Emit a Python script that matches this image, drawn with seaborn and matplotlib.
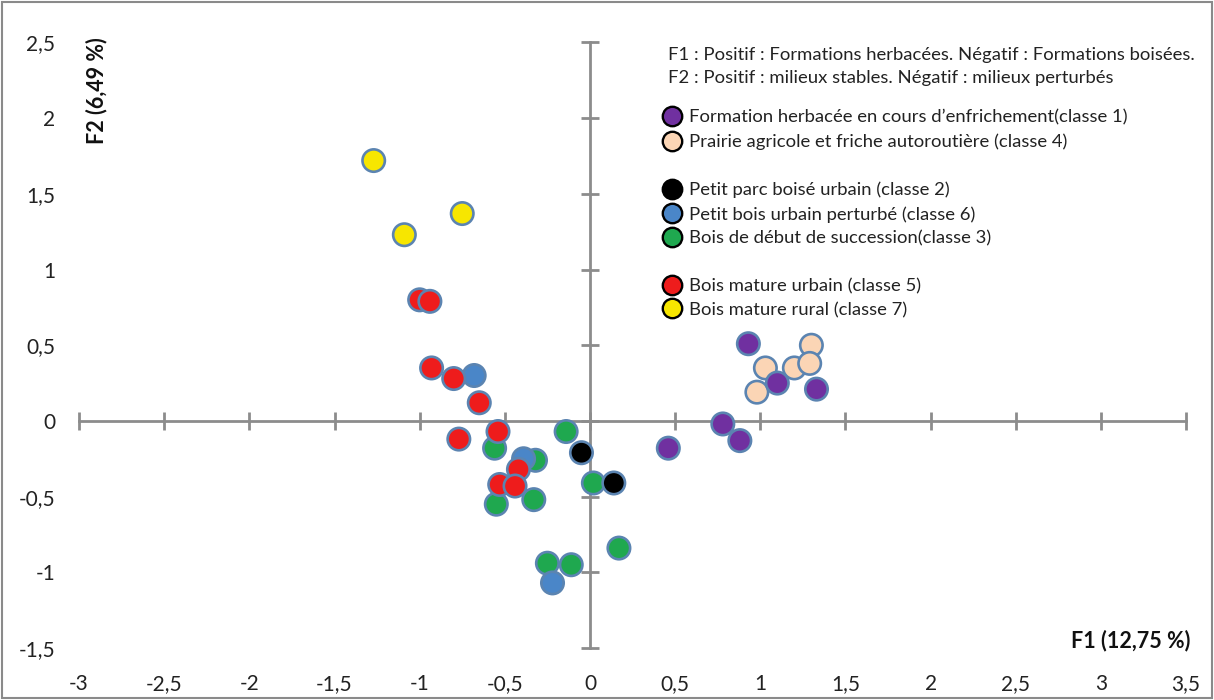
import pandas as pd
import seaborn as sns
import matplotlib.pyplot as plt
from matplotlib.lines import Line2D
from matplotlib.patches import Rectangle
from matplotlib.ticker import FuncFormatter, MultipleLocator, FixedLocator

classe1_x = [0.93, 1.10, 1.33, 0.78, 0.88, 0.46]
classe1_y = [0.51, 0.25, 0.21, -0.02, -0.13, -0.18]
classe4_x = [1.30, 1.03, 1.20, 1.29, 0.98]
classe4_y = [0.50, 0.35, 0.35, 0.38, 0.19]
classe2_x = [-0.05, 0.14]
classe2_y = [-0.21, -0.41]
classe6_x = [-0.68, -0.39, -0.22]
classe6_y = [0.30, -0.25, -1.07]
classe3_x = [-0.56, -0.14, -0.32, 0.02, -0.55, -0.33, 0.17, -0.25, -0.11]
classe3_y = [-0.18, -0.07, -0.26, -0.41, -0.55, -0.52, -0.84, -0.94, -0.95]
classe5_x = [-1.00, -0.94, -0.93, -0.80, -0.65, -0.77, -0.54, -0.42, -0.53, -0.44]
classe5_y = [0.80, 0.79, 0.35, 0.28, 0.12, -0.12, -0.07, -0.32, -0.42, -0.43]
classe7_x = [-1.27, -0.75, -1.09]
classe7_y = [1.72, 1.37, 1.23]

# Graduations des axes
ticks_f1 = [-3, -2.5, -2, -1.5, -1, -0.5, 0, 0.5, 1, 1.5, 2, 2.5, 3, 3.5]
ticks_f2 = [-1.5, -1, -0.5, 0, 0.5, 1, 1.5, 2, 2.5]

labels = {
    'classe 1': 'Formation herbacée en cours d\u2019enfrichement(classe 1)',
    'classe 4': 'Prairie agricole et friche autoroutière (classe 4)',
    'classe 2': 'Petit parc boisé urbain (classe 2)',
    'classe 6': 'Petit bois urbain perturbé (classe 6)',
    'classe 3': 'Bois de début de succession(classe 3)',
    'classe 5': 'Bois mature urbain (classe 5)',
    'classe 7': 'Bois mature rural (classe 7)',
}
couleurs = {
    'classe 1': '#7030a0',
    'classe 4': '#fbd5b5',
    'classe 2': '#000000',
    'classe 6': '#4a86c8',
    'classe 3': '#1fa84f',
    'classe 5': '#ee1c1c',
    'classe 7': '#f7e600',
}
ordre_legende = ['classe 1', 'classe 4', None, 'classe 2', 'classe 6', 'classe 3', None, 'classe 5', 'classe 7']

# Construction du DataFrame (ordre = ordre de superposition)
series = [
    ('classe 4', classe4_x, classe4_y),
    ('classe 1', classe1_x, classe1_y),
    ('classe 3', classe3_x, classe3_y),
    ('classe 6', classe6_x, classe6_y),
    ('classe 5', classe5_x, classe5_y),
    ('classe 2', classe2_x, classe2_y),
    ('classe 7', classe7_x, classe7_y),
]
df = pd.concat([pd.DataFrame({'F1': x, 'F2': y, 'classe': c}) for c, x, y in series], ignore_index=True)

sns.set_style('white')
plt.rcParams['font.family'] = ['Lato', 'DejaVu Sans']
plt.rcParams['axes.unicode_minus'] = False

fig = plt.figure(figsize=(12.14, 7), dpi=100)
ax = fig.add_axes([0.0651, 0.0743, 0.9119, 0.865])

sns.scatterplot(data=df, x='F1', y='F2', hue='classe', palette=couleurs, s=260,
                edgecolor='#5b84b1', linewidth=1.9, legend=False, ax=ax, zorder=3)

ax.set_xlim(-3, 3.5)
ax.set_ylim(-1.5, 2.5)
ax.set_xlabel('')
ax.set_ylabel('')

# Axes qui se croisent à l'origine
axe_gris = '#8c8c8c'
for s in ['top', 'right']:
    ax.spines[s].set_visible(False)
for s in ['left', 'bottom']:
    ax.spines[s].set_position(('data', 0))
    ax.spines[s].set_color(axe_gris)
    ax.spines[s].set_linewidth(2)
ax.xaxis.set_major_locator(MultipleLocator(0.5))
ax.yaxis.set_major_locator(MultipleLocator(0.5))
ax.tick_params(axis='both', direction='inout', length=13, width=2, color=axe_gris,
               labelbottom=False, labelleft=False, bottom=True, left=True)

# Graduations affichées en bas et à gauche
virgule = FuncFormatter(lambda v, p: f'{v:g}'.replace('.', ','))
sx = ax.secondary_xaxis('bottom')
sx.xaxis.set_major_locator(FixedLocator(ticks_f1))
sx.xaxis.set_major_formatter(virgule)
sx.spines['bottom'].set_visible(False)
sx.tick_params(length=0, pad=19, labelsize=15, labelcolor='#222222')
sy = ax.secondary_yaxis('left')
sy.yaxis.set_major_locator(FixedLocator(ticks_f2))
sy.yaxis.set_major_formatter(virgule)
sy.spines['left'].set_visible(False)
sy.tick_params(length=0, pad=17, labelsize=15, labelcolor='#222222')

ax.text(1.0036, 0.013, 'F1 (12,75 %)', transform=ax.transAxes, ha='right', va='center',
        fontsize=15.5, fontweight='bold', color='#111111')
ax.text(0.016, 1.009, 'F2 (6,49 %)', transform=ax.transAxes, ha='center', va='top',
        rotation=90, fontsize=15.5, fontweight='bold', color='#111111')

ax.text(0.532, 0.98, 'F1 : Positif : Formations herbacées. Négatif : Formations boisées.',
        transform=ax.transAxes, ha='left', va='center', fontsize=13.3, color='#222222')
ax.text(0.532, 0.942, 'F2 : Positif : milieux stables. Négatif : milieux perturbés',
        transform=ax.transAxes, ha='left', va='center', fontsize=13.3, color='#222222')

handles = []
noms = []
for c in ordre_legende:
    if c is None:
        handles.append(Line2D([], [], linestyle='none'))
        noms.append(' ')
    else:
        handles.append(Line2D([], [], linestyle='none', marker='o', markersize=14,
                              markerfacecolor=couleurs[c], markeredgecolor='black',
                              markeredgewidth=1.7))
        noms.append(labels[c])
ax.legend(handles, noms, loc='upper left', bbox_to_anchor=(0.5272, 0.889), frameon=False,
          fontsize=13.3, handlelength=1.0, handletextpad=0.4, borderpad=0,
          borderaxespad=0, labelspacing=0.42, labelcolor='#222222')

fig.patches.append(Rectangle((0.002, 0.003), 0.996, 0.994, transform=fig.transFigure,
                             fill=False, edgecolor='#8a8a8a', linewidth=1.5))

fig.savefig('out.png', dpi=100)
